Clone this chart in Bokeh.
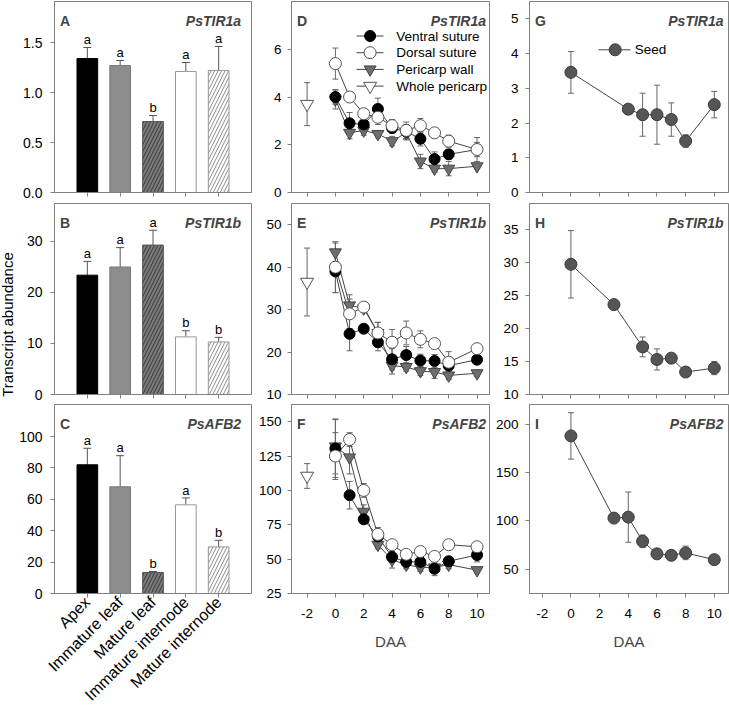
import math
from bokeh.plotting import figure
from bokeh.models import (ColumnDataSource, FactorRange, Range1d, Whisker, TeeHead,
                          Label, FixedTicker, NumeralTickFormatter)
from bokeh.layouts import gridplot, row
from bokeh.embed import file_html
from bokeh.resources import INLINE
from bokeh.core.properties import value

FONT = "Liberation Sans"
GRAY = "#808080"

# ---------------- data ----------------
tissues = ["Apex", "Immature leaf", "Mature leaf", "Immature internode", "Mature internode"]

tir1a_tissue = [1.34, 1.27, 0.71, 1.21, 1.22]
tir1a_tissue_err = [0.11, 0.05, 0.06, 0.09, 0.24]
tir1a_tissue_sig = ["a", "a", "b", "a", "a"]

tir1b_tissue = [23.4, 25.0, 29.3, 11.3, 10.3]
tir1b_tissue_err = [2.7, 3.8, 2.9, 1.2, 0.9]
tir1b_tissue_sig = ["a", "a", "a", "b", "b"]

afb2_tissue = [82.0, 68.0, 13.4, 56.5, 29.7]
afb2_tissue_err = [10.5, 19.8, 0.6, 4.4, 4.2]
afb2_tissue_sig = ["a", "a", "b", "a", "b"]

daa_pod = [0, 1, 2, 3, 4, 5, 6, 7, 8, 10]
daa_whole = [-2]

tir1a_ventral = [4.0, 2.9, 2.85, 3.5, 2.7, 2.55, 2.25, 1.4, 1.6, 1.8]
tir1a_ventral_err = [0.3, 0.45, 0.3, 0.45, 0.2, 0.3, 0.3, 0.3, 0.2, 0.3]
tir1a_dorsal = [5.4, 4.0, 3.3, 3.15, 2.8, 2.6, 2.8, 2.5, 2.15, 1.8]
tir1a_dorsal_err = [0.65, 0.2, 0.15, 0.3, 0.25, 0.35, 0.3, 0.2, 0.25, 0.5]
tir1a_wall = [3.9, 2.5, 2.6, 2.45, 2.15, 2.5, 1.3, 1.0, 1.0, 1.1]
tir1a_wall_err = [0.4, 0.25, 0.2, 0.15, 0.2, 0.3, 0.3, 0.15, 0.3, 0.1]
tir1a_whole = [3.7]
tir1a_whole_err = [0.9]

tir1b_ventral = [39.0, 24.3, 25.5, 22.3, 18.3, 19.3, 18.0, 17.9, 16.8, 18.2]
tir1b_ventral_err = [5.0, 4.0, 1.0, 2.0, 2.5, 2.0, 1.5, 1.5, 1.0, 1.0]
tir1b_dorsal = [40.0, 29.0, 30.6, 24.5, 22.3, 24.5, 23.0, 22.0, 17.6, 20.8]
tir1b_dorsal_err = [6.0, 3.5, 1.0, 2.5, 3.0, 2.8, 2.0, 1.0, 2.5, 1.0]
tir1b_wall = [43.5, 31.0, 30.3, 24.5, 16.8, 16.5, 15.5, 15.3, 14.5, 15.0]
tir1b_wall_err = [2.2, 2.5, 1.0, 2.5, 2.0, 1.0, 1.0, 1.5, 1.0, 0.8]
tir1b_whole = [36.5]
tir1b_whole_err = [8.0]

afb2_ventral = [130.5, 96.5, 79.0, 66.5, 51.5, 48.0, 48.0, 43.0, 48.5, 53.0]
afb2_ventral_err = [21.0, 10.0, 3.0, 4.0, 4.0, 3.0, 3.0, 5.0, 3.0, 5.0]
afb2_dorsal = [125.0, 137.0, 100.0, 68.0, 60.5, 53.5, 55.5, 52.0, 60.5, 59.0]
afb2_dorsal_err = [17.0, 5.0, 5.0, 5.0, 3.0, 3.0, 3.0, 3.0, 3.0, 3.0]
afb2_wall = [132.0, 124.0, 84.5, 60.5, 49.5, 46.0, 44.0, 44.0, 46.0, 42.0]
afb2_wall_err = [20.0, 12.0, 5.0, 3.0, 6.0, 3.0, 3.0, 3.0, 3.0, 2.0]
afb2_whole = [110.5]
afb2_whole_err = [9.0]

daa_seed_tir1a = [0, 4, 5, 6, 7, 8, 10]
seed_tir1a = [3.46, 2.4, 2.24, 2.24, 2.1, 1.48, 2.53]
seed_tir1a_err = [0.6, 0.12, 0.62, 0.85, 0.48, 0.18, 0.38]
daa_seed_tir1b = [0, 3, 5, 6, 7, 8, 10]
seed_tir1b = [29.7, 23.6, 17.2, 15.3, 15.5, 13.4, 14.0]
seed_tir1b_err = [5.1, 0.4, 1.5, 1.6, 0.5, 0.5, 1.0]
daa_seed_afb2 = [0, 3, 4, 5, 6, 7, 8, 10]
seed_afb2 = [188.0, 103.0, 104.0, 79.0, 66.0, 64.5, 67.0, 60.0]
seed_afb2_err = [24.0, 4.0, 26.0, 6.5, 3.0, 4.5, 7.0, 3.0]

daa_ticks = [-2, 0, 2, 4, 6, 8, 10]
daa_tick_labels = ["-2", "0", "2", "4", "6", "8", "10"]

bar_fill = ["black", "#8c8c8c", "#7a7a7a", "white", "white"]
bar_line = ["black", "#7a7a7a", "#555555", "#999999", "#999999"]
bar_hatch = [" ", " ", "/", " ", "/"]
bar_hatch_color = ["black", "black", "#3a3a3a", "black", "#8a8a8a"]

# ---------------- layout (pixels) ----------------
LABEL_W = 16
COL_W = [239, 237, 237]
COL_BL = [36, 34, 37]
COL_FW = [199, 200, 199]
ROW_H = [201, 202, 309]
ROW_BT = [1, 2, 1]
ROW_FH = [191, 191, 192]
COL_STANDOFF = [8, 6, 7]
COL_TICKFONT = ["14px", "13.5px", "13.5px"]
TITLE_ROFF = [10.5, 3.5, 5]


def make_fig(c, r, x_range, y_range):
    W, H = COL_W[c], ROW_H[r]
    p = figure(width=W, height=H, x_range=x_range, y_range=y_range,
               output_backend="svg", toolbar_location=None,
               min_border_left=COL_BL[c], min_border_right=W - COL_BL[c] - COL_FW[c],
               min_border_top=ROW_BT[r], min_border_bottom=H - ROW_BT[r] - ROW_FH[r])
    p.xgrid.visible = False
    p.ygrid.visible = False
    p.outline_line_color = GRAY
    p.background_fill_color = "white"
    p.border_fill_color = "white"
    for ax in (p.xaxis[0], p.yaxis[0]):
        ax.axis_line_color = GRAY
        ax.major_tick_line_color = GRAY
        ax.minor_tick_line_color = None
        ax.major_tick_in = 0
        ax.major_tick_out = 4
        ax.major_label_text_font = FONT
        ax.major_label_text_font_size = COL_TICKFONT[c]
        ax.major_label_text_color = "#000000"
    p.yaxis[0].major_label_standoff = COL_STANDOFF[c]
    return p


def hide_xlabels(p):
    ax = p.xaxis[0]
    ax.major_label_text_font_size = "1px"
    ax.major_label_text_color = None
    ax.major_label_standoff = 0


def add_titles(p, c, r, xs, xe, ys, ye, letter, gene):
    dx = (xe - xs) / COL_FW[c]
    dy = (ye - ys) / ROW_FH[r]
    p.add_layout(Label(x=xs + 5.5 * dx, y=ye - 19.5 * dy, text=letter,
                       text_font=FONT, text_font_size="14px", text_font_style="bold",
                       text_align="left", text_baseline="alphabetic"))
    p.add_layout(Label(x=xe - TITLE_ROFF[c] * dx, y=ye - 19.5 * dy, text=gene,
                       text_font=FONT, text_font_size="14px", text_font_style="bold italic",
                       text_align="right", text_baseline="alphabetic"))


def bar_panel(r, vals, errs, sig, ymax, ticks, fmt, letter, gene, show_labels):
    c = 0
    xr = FactorRange(factors=tissues, range_padding=0.2)
    p = make_fig(c, r, xr, Range1d(0, ymax))
    upper = [v + e for v, e in zip(vals, errs)]
    dy = ymax / ROW_FH[r]
    src = ColumnDataSource(dict(cat=tissues, val=vals, upper=upper,
                                ly=[u + 8 * dy for u in upper], sig=sig,
                                fill=bar_fill, line=bar_line, hatch=bar_hatch,
                                hcolor=bar_hatch_color))
    p.vbar(x="cat", top="val", bottom=0, width=0.63, source=src,
           fill_color="fill", line_color="line", line_width=1,
           hatch_pattern="hatch", hatch_color="hcolor", hatch_scale=7, hatch_weight=1)
    p.add_layout(Whisker(source=src, base="cat", lower="val", upper="upper",
                         dimension="height", line_color="#555555", line_width=1,
                         upper_head=TeeHead(size=8, line_color="#555555", line_width=1),
                         lower_head=None))
    p.text(x="cat", y="ly", text="sig", source=src, text_align="center",
           text_baseline="alphabetic", text_font=value(FONT), text_font_size="13px",
           text_color="#000000")
    p.yaxis[0].ticker = FixedTicker(ticks=ticks)
    if fmt:
        p.yaxis[0].formatter = NumeralTickFormatter(format=fmt)
    ax = p.xaxis[0]
    if show_labels:
        ax.major_label_orientation = math.pi / 4
        ax.major_label_text_font_size = "16px"
        ax.major_label_standoff = 2
    else:
        hide_xlabels(p)
    add_titles(p, c, r, -0.5, 5.5, 0, ymax, letter, gene)
    return p


def whisk(p, src, size):
    p.add_layout(Whisker(source=src, base="x", lower="lo", upper="hi",
                         dimension="height", line_color="#666666", line_width=1,
                         upper_head=TeeHead(size=size, line_color="#666666", line_width=1),
                         lower_head=TeeHead(size=size, line_color="#666666", line_width=1)))


def make_src(xs, ys, es):
    return ColumnDataSource(dict(x=xs, y=ys, lo=[y - e for y, e in zip(ys, es)],
                                 hi=[y + e for y, e in zip(ys, es)]))


def line_panel(c, r, xr, yr, yticks, series, whole, letter, gene, show_labels,
               legend_order=None, legend_geom=None):
    p = make_fig(c, r, Range1d(*xr), Range1d(*yr))
    srcs = [make_src(s[1], s[2], s[3]) for s in series]
    for src in srcs:
        whisk(p, src, 6)
    for src in srcs:
        p.line("x", "y", source=src, line_color="#444444", line_width=1)
    for s, src in zip(series, srcs):
        p.scatter("x", "y", source=src, marker=s[4], size=s[5],
                  fill_color=s[6], line_color=s[7], line_width=1)
    allser = list(series)
    if whole is not None:
        src = make_src(whole[1], whole[2], whole[3])
        whisk(p, src, 6)
        p.scatter("x", "y", source=src, marker=whole[4], size=whole[5],
                  fill_color=whole[6], line_color=whole[7], line_width=1)
        allser.append(whole)
    # legend drawn inside the frame (pixel geometry relative to frame top-left)
    if legend_order is not None:
        x0, x1, xm, xt, ytop, pitch = legend_geom
        dx = (xr[1] - xr[0]) / COL_FW[c]
        dy = (yr[1] - yr[0]) / ROW_FH[r]
        by_name = {s[0]: s for s in allser}
        for i, name in enumerate(legend_order):
            s = by_name[name]
            yy = yr[1] - (ytop + i * pitch) * dy
            p.segment(x0=[xr[0] + x0 * dx], y0=[yy], x1=[xr[0] + x1 * dx], y1=[yy],
                      line_color="#444444", line_width=1)
            p.scatter(x=[xr[0] + xm * dx], y=[yy], marker=s[4], size=s[5],
                      fill_color=s[6], line_color=s[7], line_width=1)
            p.text(x=[xr[0] + xt * dx], y=[yy], text=[name], text_align="left",
                   text_baseline="middle", text_font=value(FONT),
                   text_font_size="13.5px", text_color="#000000")
    p.xaxis[0].ticker = FixedTicker(ticks=daa_ticks)
    p.xaxis[0].major_label_overrides = dict(zip(daa_ticks, daa_tick_labels))
    p.yaxis[0].ticker = FixedTicker(ticks=yticks)
    ax = p.xaxis[0]
    if show_labels:
        ax.major_label_standoff = 11
        ax.axis_label = "DAA"
        ax.axis_label_text_font = FONT
        ax.axis_label_text_font_size = "15px"
        ax.axis_label_text_font_style = "normal"
        ax.axis_label_standoff = 12
    else:
        hide_xlabels(p)
    add_titles(p, c, r, xr[0], xr[1], yr[0], yr[1], letter, gene)
    return p


XR2 = (-3.1, 10.88)
XR3 = (-2.89, 10.99)
POD_LEGEND = ["Ventral suture", "Dorsal suture", "Pericarp wall", "Whole pericarp"]


def pod(r, v, ve, d, de, w, we, wh, whe, yr, yticks, letter, gene, show, with_legend):
    series = [
        ("Pericarp wall", daa_pod, w, we, "inverted_triangle", 12, "#6e6e6e", "#444444"),
        ("Ventral suture", daa_pod, v, ve, "circle", 11, "black", "black"),
        ("Dorsal suture", daa_pod, d, de, "circle", 12, "white", "#555555"),
    ]
    whole = ("Whole pericarp", daa_whole, wh, whe, "inverted_triangle", 13, "white", "#555555")
    return line_panel(1, r, XR2, yr, yticks, series, whole, letter, gene, show,
                      POD_LEGEND if with_legend else None,
                      (65.7, 93, 79.4, 105.7, 34.5, 16.7))


def seed(r, xs, ys, es, yr, yticks, letter, gene, show, with_legend):
    series = [("Seed", xs, ys, es, "circle", 12, "#555555", "#3a3a3a")]
    return line_panel(2, r, XR3, yr, yticks, series, None, letter, gene, show,
                      ["Seed"] if with_legend else None,
                      (69, 101, 85.7, 105.3, 48.3, 16.7))


# column 1
pA = bar_panel(0, tir1a_tissue, tir1a_tissue_err, tir1a_tissue_sig, 1.91,
               [0, 0.5, 1.0, 1.5], "0.0", "A", "PsTIR1a", False)
pB = bar_panel(1, tir1b_tissue, tir1b_tissue_err, tir1b_tissue_sig, 37.45,
               [0, 10, 20, 30], None, "B", "PsTIR1b", False)
pC = bar_panel(2, afb2_tissue, afb2_tissue_err, afb2_tissue_sig, 120.4,
               [0, 20, 40, 60, 80, 100], None, "C", "PsAFB2", True)

# column 2
pD = pod(0, tir1a_ventral, tir1a_ventral_err, tir1a_dorsal, tir1a_dorsal_err,
         tir1a_wall, tir1a_wall_err, tir1a_whole, tir1a_whole_err, (0, 8), [0, 2, 4, 6],
         "D", "PsTIR1a", False, True)
pE = pod(1, tir1b_ventral, tir1b_ventral_err, tir1b_dorsal, tir1b_dorsal_err,
         tir1b_wall, tir1b_wall_err, tir1b_whole, tir1b_whole_err, (10, 55),
         [10, 20, 30, 40, 50], "E", "PsTIR1b", False, False)
pF = pod(2, afb2_ventral, afb2_ventral_err, afb2_dorsal, afb2_dorsal_err,
         afb2_wall, afb2_wall_err, afb2_whole, afb2_whole_err, (25, 162.5),
         [25, 50, 75, 100, 125, 150], "F", "PsAFB2", True, False)

# column 3
pG = seed(0, daa_seed_tir1a, seed_tir1a, seed_tir1a_err, (0, 5.5), [0, 1, 2, 3, 4, 5],
          "G", "PsTIR1a", False, True)
pH = seed(1, daa_seed_tir1b, seed_tir1b, seed_tir1b_err, (10, 38.9),
          [10, 15, 20, 25, 30, 35], "H", "PsTIR1b", False, False)
pI = seed(2, daa_seed_afb2, seed_afb2, seed_afb2_err, (25, 220.5), [50, 100, 150, 200],
          "I", "PsAFB2", True, False)

# shared y-axis title strip on the left
TOTAL_H = sum(ROW_H)
ylab = figure(width=LABEL_W, height=TOTAL_H, x_range=Range1d(0, LABEL_W),
              y_range=Range1d(0, TOTAL_H), output_backend="svg", toolbar_location=None,
              min_border=0)
ylab.axis.visible = False
ylab.xgrid.visible = False
ylab.ygrid.visible = False
ylab.outline_line_color = None
ylab.border_fill_color = "white"
ylab.background_fill_color = "white"
ylab.text(x=[7.3], y=[TOTAL_H - 324], text=["Transcript abundance"], angle=math.pi / 2,
          text_align="center", text_baseline="middle", text_font=value(FONT),
          text_font_size="15px", text_color="#000000")

grid = gridplot([[pA, pD, pG], [pB, pE, pH], [pC, pF, pI]], toolbar_location=None)
page = row(ylab, grid)

open("out.html", "w").write(file_html(page, INLINE))
